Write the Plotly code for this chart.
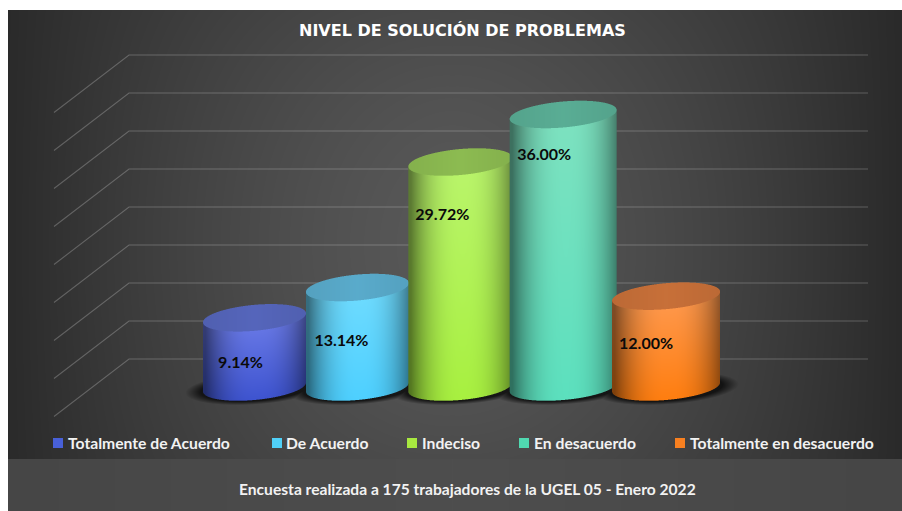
import base64
import struct
import zlib

import numpy as np
import plotly.graph_objects as go

# Datos de la encuesta
categorias = ["Totalmente de Acuerdo", "De Acuerdo", "Indeciso", "En desacuerdo", "Totalmente en desacuerdo"]
valores = [9.14, 13.14, 29.72, 36.00, 12.00]
ticks_pared = [0, 5, 10, 15, 20, 25, 30, 35, 40]
titulo = "NIVEL DE SOLUCIÓN DE PROBLEMAS"
pie = "Encuesta realizada a 175 trabajadores de la UGEL 05 - Enero 2022"

# Colores: arriba del cuerpo, abajo del cuerpo, tapa, leyenda
col_arriba = [(108, 124, 232), (112, 220, 255), (186, 245, 108), (126, 226, 192), (255, 154, 80)]
col_abajo = [(62, 84, 208), (78, 208, 255), (168, 240, 64), (92, 224, 190), (255, 126, 16)]
col_tapa = [(84, 100, 184), (88, 168, 200), (138, 184, 80), (88, 170, 146), (196, 110, 56)]
col_leyenda = ["#4860d8", "#50d0f8", "#a8e840", "#50d8b0", "#f88020"]

# Geometria de la figura (pixeles de la captura)
W, H = 902, 511
PX_CAT, X0_CAT = 102.9, 254.5
PX_PCT, Y0_BASE = 7.57, 387
PX_PCT_PARED, Y0_PARED = 7.6, 359
RADIO_PX = [51.5, 51.5, 52, 53.5, 54]
ELIPSE_B, ELIPSE_K = 13.0, -4.5
ETIQ_DX = [-14, -16, -18, -19, -20]
ETIQ_DY = [-46, -54.5, -54, -42, -49]
LEY_SWATCH_X = [53, 272, 407, 519, 675]
LEY_TEXTO_X = [67, 285, 421, 533, 689]


def cat_x(px):
    return (px - X0_CAT) / PX_CAT


def pct_y(py):
    return (Y0_BASE - py) / PX_PCT


def pared_y(py):
    return (Y0_PARED - py) / PX_PCT_PARED


def png_uri(rgba):
    alto, ancho = rgba.shape[:2]
    crudo = b"".join(b"\0" + rgba[f].tobytes() for f in range(alto))

    def chunk(tag, datos):
        return struct.pack(">I", len(datos)) + tag + datos + struct.pack(">I", zlib.crc32(tag + datos))

    png = (b"\x89PNG\r\n\x1a\n"
           + chunk(b"IHDR", struct.pack(">IIBBBBB", ancho, alto, 8, 6, 0, 0, 0))
           + chunk(b"IDAT", zlib.compress(crudo, 9))
           + chunk(b"IEND", b""))
    return "data:image/png;base64," + base64.b64encode(png).decode()


def imagen_traza(rgba, px_izq, py_arriba, yaxis):
    alto = rgba.shape[0]
    # con el eje y sin invertir plotly pinta la primera fila abajo
    return go.Image(
        source=png_uri(rgba[::-1]),
        x0=cat_x(px_izq + 0.5),
        dx=1 / PX_CAT,
        y0=pct_y(py_arriba + alto - 0.5),
        dy=1 / PX_PCT,
        xaxis="x",
        yaxis=yaxis,
        hoverinfo="skip",
    )


def fondo():
    ys, xs = np.mgrid[0:H, 0:W]
    d = np.clip(np.abs(xs - 452) / 450, 0, 1)
    v = np.clip(np.abs(ys - 245) / 240, 0, 1)
    gris = 88 - 46 * d ** 1.5 - 16 * v ** 2 * (1 - d)
    gris = np.where(ys >= 459, 78 - 8 * d, gris)
    gris = np.where((ys < 10) | (xs < 8), 255, gris)
    rgba = np.zeros(xs.shape + (4,), dtype=np.uint8)
    rgba[..., :3] = np.clip(gris, 0, 255)[..., None]
    rgba[..., 3] = 255
    # sombra bajo los cilindros
    alfa_total = np.zeros(xs.shape)
    for i in range(len(valores)):
        cx = X0_CAT + i * PX_CAT
        r = RADIO_PX[i] + 18
        u = (xs - cx) / r
        yb = ys - ELIPSE_K * u - (Y0_BASE + 1)
        dist = np.sqrt(u ** 2 + (yb / (ELIPSE_B + 3)) ** 2)
        alfa_total = np.maximum(alfa_total, np.clip((1.0 - dist) / 0.22, 0, 1) * 0.85)
    rgba[..., :3] = (rgba[..., :3] * (1 - alfa_total[..., None]) + 12 * alfa_total[..., None]).astype(np.uint8)
    return rgba


def cilindro(i):
    ss = 3
    cx = X0_CAT + i * PX_CAT
    r = RADIO_PX[i]
    y_tapa = Y0_BASE - valores[i] * PX_PCT
    izq = int(cx - r - 2)
    der = int(cx + r + 3)
    arriba = int(y_tapa - 18)
    abajo = int(Y0_BASE + 18)
    ys, xs = np.mgrid[arriba:abajo:1 / ss, izq:der:1 / ss]
    ys = ys + 0.5 / ss
    xs = xs + 0.5 / ss
    u = (xs - cx) / r
    dentro = np.abs(u) <= 1
    semi = ELIPSE_B * np.sqrt(np.clip(1 - u ** 2, 0, 1))
    yc = ys - ELIPSE_K * u
    cuerpo = dentro & (yc >= y_tapa) & (yc <= Y0_BASE + semi)
    tapa = dentro & (np.abs(yc - y_tapa) <= semi)

    v = np.clip((yc - y_tapa) / (Y0_BASE - y_tapa + ELIPSE_B), 0, 1)[..., None]
    base = np.array(col_arriba[i]) * (1 - v) + np.array(col_abajo[i]) * v
    sombra = 0.5 + 0.5 * (1 - np.clip(np.abs(u - 0.05), 0, 1) ** 2.5)
    color = base * sombra[..., None]
    color[tapa] = np.array(col_tapa[i]) * (0.96 + 0.06 * (1 - np.abs(u[tapa])))[..., None]

    alfa = (cuerpo | tapa).astype(float)
    premul = color * alfa[..., None]
    h = premul.shape[0] // ss
    w = premul.shape[1] // ss
    alfa = alfa[:h * ss, :w * ss].reshape(h, ss, w, ss).mean(axis=(1, 3))
    premul = premul[:h * ss, :w * ss].reshape(h, ss, w, ss, 3).mean(axis=(1, 3))
    rgb = premul / np.maximum(alfa, 1e-6)[..., None]
    rgba = np.dstack([np.clip(rgb, 0, 255), alfa * 255]).astype(np.uint8)
    return rgba, izq, arriba


fig = go.Figure()

# Capa base: fondo y barras (quedan tapadas por los cilindros)
fig.add_trace(imagen_traza(fondo(), 0, 0, "y"))
for i, (cat, val) in enumerate(zip(categorias, valores)):
    fig.add_trace(go.Bar(
        x=[i], y=[val], width=1.5 * RADIO_PX[i] / PX_CAT, name=cat,
        marker_color=col_leyenda[i], showlegend=False, xaxis="x", yaxis="y",
    ))

# Lineas de la pared y del lateral
x_pared = cat_x(129)
x_fin = cat_x(868)
x_lado = cat_x(54)
caida = 57.5 / PX_PCT_PARED
for t in ticks_pared:
    fig.add_trace(go.Scatter(
        x=[x_lado, x_pared, x_fin], y=[t - caida, t, t], mode="lines",
        line=dict(color="rgba(255,255,255,0.23)", width=1.1),
        showlegend=False, hoverinfo="skip", xaxis="x", yaxis="y2",
    ))

# Cilindros y etiquetas
for i in range(len(valores)):
    rgba, izq, arriba = cilindro(i)
    fig.add_trace(imagen_traza(rgba, izq, arriba, "y3"))

fig.add_trace(go.Scatter(
    x=[i + ETIQ_DX[i] / PX_CAT for i in range(len(valores))],
    y=[valores[i] + ETIQ_DY[i] / PX_PCT for i in range(len(valores))],
    mode="text",
    text=[f"<b>{v:.2f}%</b>" for v in valores],
    textposition="middle center",
    textfont=dict(family="Lato", size=16, color="#0a0a0a"),
    showlegend=False, hoverinfo="skip", xaxis="x", yaxis="y3",
))


def px_x(px):
    return px / W


def px_y(py):
    return 1 - py / H


anotaciones = [
    dict(text=f"<b>{titulo}</b>", x=px_x(462), y=px_y(30), xanchor="center", yanchor="middle",
         font=dict(family="DejaVu Sans", size=16, color="#ffffff")),
    dict(text=f"<b>{pie}</b>", x=px_x(468), y=px_y(489), xanchor="center", yanchor="middle",
         font=dict(family="Lato", size=15.6, color="#f2f2f2")),
]
formas = []
for i, cat in enumerate(categorias):
    anotaciones.append(dict(text=f"<b>{cat}</b>", x=px_x(LEY_TEXTO_X[i]), y=px_y(443), xanchor="left",
                            yanchor="middle", font=dict(family="Lato", size=15.7, color="#f2f2f2")))
    formas.append(dict(type="rect", xref="paper", yref="paper", x0=px_x(LEY_SWATCH_X[i]),
                       x1=px_x(LEY_SWATCH_X[i] + 10), y0=px_y(448), y1=px_y(438),
                       fillcolor=col_leyenda[i], line_width=0))
for a in anotaciones:
    a.update(xref="paper", yref="paper", showarrow=False, borderpad=0)

rango_y = [pct_y(H), pct_y(0)]
fig.update_layout(
    width=W, height=H,
    margin=dict(l=0, r=0, t=0, b=0, pad=0),
    paper_bgcolor="#ffffff", plot_bgcolor="#ffffff",
    showlegend=False,
    barmode="overlay",
    annotations=anotaciones,
    shapes=formas,
    xaxis=dict(range=[cat_x(0), cat_x(W)], visible=False, fixedrange=True, constrain="range"),
    yaxis=dict(range=rango_y, visible=False, fixedrange=True, scaleanchor=False, constrain="range"),
    yaxis2=dict(range=[pared_y(H), pared_y(0)], visible=False, overlaying="y", fixedrange=True,
                scaleanchor=False),
    yaxis3=dict(range=rango_y, visible=False, overlaying="y", fixedrange=True, scaleanchor=False),
)

fig.write_html("out.html", config=dict(displayModeBar=False), default_width="902px", default_height="511px",
               post_script="document.body.style.margin='0';")
